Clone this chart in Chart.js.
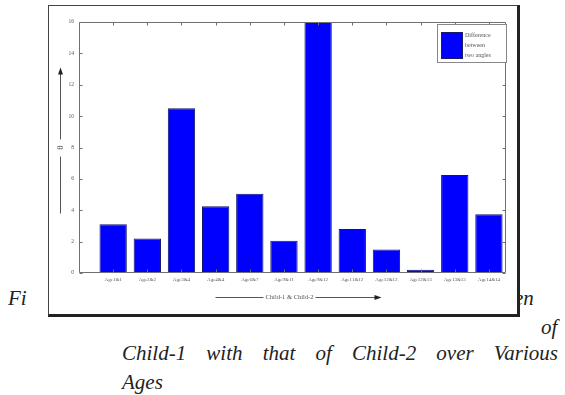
<!DOCTYPE html>
<html>
<head>
<meta charset="utf-8">
<script src="https://cdn.jsdelivr.net/npm/chart.js@4.4.1/dist/chart.umd.min.js"></script>
<style>
  html, body { margin: 0; padding: 0; background: #fff; width: 565px; height: 395px; overflow: hidden; }
  .cap { position: absolute; font-family: "Liberation Serif", "DejaVu Serif", serif; font-style: italic; font-size: 21px; color: #222; white-space: nowrap; line-height: 1; }
  #frame { position: absolute; left: 48px; top: 5px; width: 468px; height: 308px; border: 1px solid #444; border-right: 3px solid #222; border-bottom: 3px solid #222; background: #fff; z-index: 2; }
  #chart { position: absolute; left: 0; top: 0; }
  #line3 { left: 122px; top: 343px; width: 436px; text-align: justify; text-align-last: justify; white-space: normal; }
</style>
</head>
<body>
<div class="cap" style="left:8px; top:288px;">Fi</div>
<div class="cap" style="left:514px; top:288px;">en</div>
<div class="cap" style="left:541px; top:317px;">of</div>
<div class="cap" id="line3">Child-1 with that of Child-2 over Various</div>
<div class="cap" style="left:122px; top:372px;">Ages</div>
<div id="frame"><canvas id="chart" width="468" height="308"></canvas></div>
<script>
// Age pairs compared (Child-1 & Child-2)
const ageLabels = ["Age1&1", "Age2&2", "Age3&4", "Age4&4", "Age6&7", "Age9&11",
                   "Age9&12", "Age11&12", "Age12&12", "Age12&13", "Age13&13", "Age14&14"];
// Difference between the two angles for each pair
const angleDiff = [3.1, 2.2, 10.5, 4.25, 5.05, 2.05, 16, 2.8, 1.5, 0.2, 6.25, 3.75];
const yTicks = [0, 2, 4, 6, 8, 10, 12, 14, 16];
const seriesName = "Difference between two angles";
const xTitle = "Child-1 & Child-2";
const yTitle = "\u03b8";

const axisGray = "#707070";
const textGray = "#555";
const serif = '"Liberation Serif", "DejaVu Serif", serif';

function arrowHead(ctx, x, y, dir) {
  // dir: 'up' or 'right'
  ctx.beginPath();
  if (dir === 'up') {
    ctx.moveTo(x, y); ctx.lineTo(x - 2.5, y + 7); ctx.lineTo(x + 2.5, y + 7);
  } else {
    ctx.moveTo(x, y); ctx.lineTo(x - 7, y - 2.5); ctx.lineTo(x - 7, y + 2.5);
  }
  ctx.closePath();
  ctx.fill();
}

const boxPlugin = {
  id: 'matlabBox',
  afterDatasetsDraw(chart) {
    const { ctx, chartArea: a, scales: { x, y } } = chart;
    ctx.save();
    ctx.strokeStyle = axisGray;
    ctx.lineWidth = 1;
    // full axes box
    const L = Math.round(a.left) + 0.5, T = Math.round(a.top) + 0.5;
    const R = Math.round(a.right) - 0.5, B = Math.round(a.bottom) - 0.5;
    ctx.beginPath();
    ctx.moveTo(L, T); ctx.lineTo(R, T); ctx.lineTo(R, B); ctx.lineTo(L, B); ctx.closePath();
    ctx.stroke();
    // inward tick marks
    ctx.beginPath();
    yTicks.forEach(v => {
      const py = Math.round(y.getPixelForValue(v)) + 0.5;
      ctx.moveTo(L, py); ctx.lineTo(L + 3, py);
      ctx.moveTo(R, py); ctx.lineTo(R - 3, py);
    });
    ageLabels.forEach((_, i) => {
      const px = Math.round(x.getPixelForValue(i + 1)) + 0.5;
      ctx.moveTo(px, B); ctx.lineTo(px, B - 3);
      ctx.moveTo(px, T); ctx.lineTo(px, T + 3);
    });
    ctx.stroke();

    // legend
    const lw = 70, lh = 39;
    const lx = a.right - lw + 1, ly = a.top + 2;
    ctx.fillStyle = "#fff";
    ctx.fillRect(lx, ly, lw, lh);
    ctx.strokeStyle = "#888";
    ctx.strokeRect(lx + 0.5, ly + 0.5, lw - 1, lh - 1);
    ctx.fillStyle = chart.data.datasets[0].backgroundColor;
    ctx.fillRect(lx + 4, ly + 8, 22, 27);
    ctx.strokeStyle = "#1a1a66";
    ctx.strokeRect(lx + 4.5, ly + 8.5, 21, 26);
    ctx.fillStyle = textGray;
    ctx.font = "6px " + serif;
    ctx.textBaseline = "middle";
    ctx.textAlign = "left";
    const words = chart.data.datasets[0].label.split(" ");
    const lines = [words[0], words[1], words.slice(2).join(" ")];
    lines.forEach((t, i) => ctx.fillText(t, lx + 28, ly + 11 + i * 10));

    // x-axis title with arrow
    const cx = (a.left + a.right) / 2 - 3;
    const ty = a.bottom + 24;
    ctx.font = "6.5px " + serif;
    ctx.textAlign = "center";
    ctx.fillText(xTitle, cx, ty);
    const tw = ctx.measureText(xTitle).width;
    ctx.strokeStyle = "#555";
    ctx.beginPath();
    ctx.moveTo(cx - tw / 2 - 2, ty + 0.5); ctx.lineTo(cx - tw / 2 - 50, ty + 0.5);
    ctx.moveTo(cx + tw / 2 + 2, ty + 0.5); ctx.lineTo(cx + tw / 2 + 62, ty + 0.5);
    ctx.stroke();
    ctx.fillStyle = "#222";
    arrowHead(ctx, cx + tw / 2 + 68, ty + 0.5, 'right');

    // y-axis title with arrow
    const yx = Math.round(a.left - 19) + 0.5;
    const cy = (a.top + a.bottom) / 2;
    ctx.fillStyle = textGray;
    ctx.save();
    ctx.translate(yx, cy);
    ctx.rotate(-Math.PI / 2);
    ctx.font = "9px " + serif;
    ctx.textAlign = "center";
    ctx.fillText(yTitle, 0, 0);
    ctx.restore();
    ctx.strokeStyle = "#555";
    ctx.beginPath();
    ctx.moveTo(yx, cy - 8); ctx.lineTo(yx, cy - 74);
    ctx.moveTo(yx, cy + 9); ctx.lineTo(yx, cy + 66);
    ctx.stroke();
    ctx.fillStyle = "#222";
    arrowHead(ctx, yx, cy - 80, 'up');
    ctx.restore();
  }
};

new Chart(document.getElementById('chart'), {
  type: 'bar',
  data: {
    datasets: [{
      label: seriesName,
      data: angleDiff.map((v, i) => ({ x: i + 1, y: v })),
      backgroundColor: "#0000ff",
      borderColor: "#14146e",
      borderWidth: 1,
      barPercentage: 0.8,
      categoryPercentage: 1.0
    }]
  },
  options: {
    responsive: false,
    animation: false,
    devicePixelRatio: 1,
    layout: { padding: { top: 16, right: 11, left: 0, bottom: 0 } },
    plugins: { legend: { display: false }, tooltip: { enabled: false } },
    scales: {
      x: {
        type: 'linear',
        offset: false,
        min: 0,
        max: 12.5,
        afterBuildTicks: s => { s.ticks = ageLabels.map((_, i) => ({ value: i + 1 })); },
        afterFit: s => { s.height = 41; },
        grid: { display: false, drawTicks: false, offset: false },
        border: { display: false },
        ticks: {
          autoSkip: false, maxRotation: 0, minRotation: 0, padding: 4,
          color: textGray, font: { size: 5, family: serif },
          callback: v => ageLabels[v - 1]
        }
      },
      y: {
        min: 0,
        max: 16,
        afterBuildTicks: s => { s.ticks = yTicks.map(v => ({ value: v })); },
        afterFit: s => { s.width = 30; },
        grid: { display: false, drawTicks: false },
        border: { display: false },
        ticks: { padding: 5, color: textGray, font: { size: 5.5, family: serif } }
      }
    }
  },
  plugins: [boxPlugin]
});
</script>
</body>
</html>
